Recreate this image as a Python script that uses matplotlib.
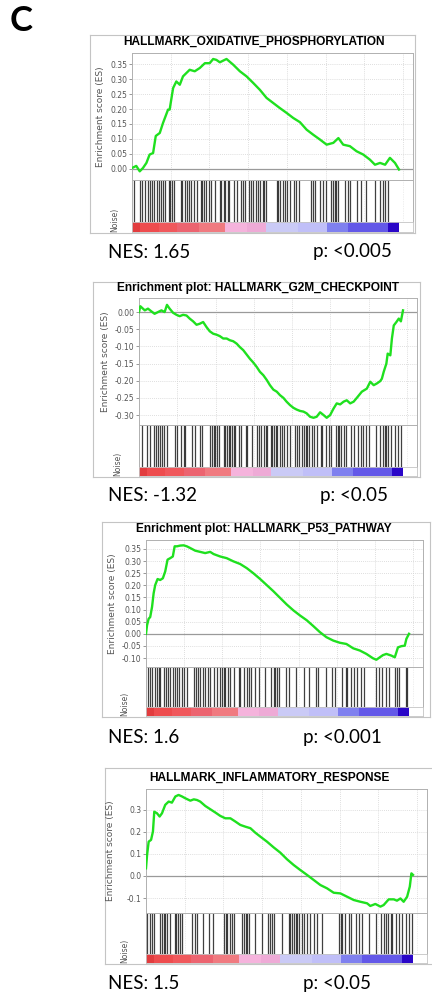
import numpy as np
import matplotlib
matplotlib.use("Agg")
import matplotlib.pyplot as plt

# running enrichment score, x = position in ranked gene list (%)
oxphos_x = [0, 1.6, 2.9, 4.1, 5.4, 6.6, 7.9, 8.9, 10.4, 11.6,
            13.5, 14.1, 15.4, 16.6, 17.9, 19.1, 21.6, 23.5, 25.4, 27.3,
            29.1, 30.4, 31.6, 32.9, 35.4, 37.9, 40.4, 42.9, 45.4, 47.9,
            50.4, 52.9, 55.4, 57.9, 60.4, 62.9, 65.4, 67.9, 70.4, 72.9,
            75.4, 77.3, 79.1, 81.6, 84.1, 86.6, 89.1, 91.0, 92.9, 94.8,
            96.6, 98.5, 100]
oxphos_es = [0.003, 0.01, -0.008, 0.003, 0.02, 0.048, 0.053, 0.11, 0.12, 0.153,
             0.198, 0.198, 0.27, 0.292, 0.281, 0.309, 0.331, 0.326, 0.337, 0.353,
             0.353, 0.367, 0.364, 0.356, 0.367, 0.348, 0.326, 0.309, 0.287, 0.264,
             0.237, 0.22, 0.203, 0.187, 0.17, 0.156, 0.131, 0.114, 0.098, 0.081,
             0.087, 0.103, 0.081, 0.076, 0.059, 0.048, 0.031, 0.014, 0.02, 0.014,
             0.037, 0.02, -0.002]
oxphos_hits = [0.9, 3.1, 3.8, 5.0, 5.9, 6.6, 7.5, 8.2, 9.2, 10.0,
               10.7, 11.7, 12.5, 13.8, 14.4, 15.1, 15.9, 18.2, 18.8, 19.7,
               20.7, 21.3, 22.2, 23.2, 24.5, 25.7, 26.3, 27.0, 27.9, 28.9,
               29.7, 31.0, 33.0, 33.5, 34.3, 34.9, 35.8, 36.4, 38.3, 39.5,
               40.8, 41.4, 42.3, 43.9, 44.5, 45.2, 46.4, 47.1, 48.1, 48.9,
               49.6, 50.2, 54.2, 54.8, 55.6, 56.5, 57.3, 58.1, 59.0, 60.6,
               61.5, 62.4, 67.1, 67.8, 68.6, 70.3, 71.5, 72.8, 74.7, 75.3,
               75.9, 76.5, 77.2, 79.7, 80.9, 81.6, 84.1, 85.9, 87.8, 91.0,
               92.8, 94.1, 94.7, 96.0]

g2m_x = [0, 0.5, 2.2, 3.4, 4.7, 5.9, 7.2, 8.5, 9.7, 10.6,
         11.6, 12.9, 14.2, 15.4, 16.7, 18.0, 19.2, 20.5, 21.8, 23.0,
         24.3, 25.6, 26.8, 28.1, 29.4, 30.6, 31.9, 33.2, 34.4, 35.7,
         37.0, 38.2, 39.5, 40.8, 42.0, 43.3, 44.6, 45.8, 47.1, 48.4,
         49.6, 50.9, 52.2, 53.4, 54.7, 55.9, 57.2, 58.5, 59.7, 61.0,
         62.3, 63.5, 64.8, 66.1, 67.3, 68.6, 69.9, 71.1, 72.4, 73.7,
         74.9, 76.2, 77.5, 78.7, 80.0, 81.3, 82.5, 84.4, 86.3, 87.6,
         88.9, 90.1, 91.4, 92.0, 92.7, 93.7, 94.2, 95.2, 95.8, 96.5,
         97.5, 98.4, 99.2, 100]
g2m_es = [0.0, 0.017, 0.005, 0.010, 0.002, -0.005, 0.0, 0.005, 0.0, 0.021,
          0.010, -0.002, -0.008, -0.012, -0.008, -0.010, -0.019, -0.027, -0.037, -0.034,
          -0.029, -0.044, -0.056, -0.063, -0.066, -0.070, -0.077, -0.077, -0.082, -0.085,
          -0.092, -0.102, -0.111, -0.124, -0.136, -0.147, -0.160, -0.174, -0.184, -0.198,
          -0.213, -0.226, -0.232, -0.242, -0.250, -0.261, -0.271, -0.279, -0.284, -0.288,
          -0.290, -0.295, -0.305, -0.308, -0.305, -0.292, -0.300, -0.308, -0.300, -0.281,
          -0.266, -0.269, -0.261, -0.257, -0.266, -0.261, -0.250, -0.232, -0.223, -0.203,
          -0.213, -0.208, -0.201, -0.194, -0.174, -0.150, -0.121, -0.126, -0.077, -0.039,
          -0.029, -0.019, -0.027, 0.005]
g2m_hits = [1.3, 2.9, 4.2, 5.5, 6.3, 7.1, 8.0, 8.6, 9.6, 10.5,
            13.5, 14.3, 16.0, 16.9, 17.5, 20.1, 21.1, 23.2, 23.9, 27.0,
            27.7, 28.3, 28.9, 29.6, 30.2, 32.1, 32.7, 33.4, 34.0, 34.6,
            35.3, 35.9, 36.5, 37.8, 38.8, 40.4, 41.0, 42.9, 44.8, 45.4,
            46.1, 47.3, 48.0, 48.6, 49.9, 50.5, 51.1, 51.8, 52.4, 53.3,
            54.3, 54.9, 56.2, 57.1, 59.1, 60.0, 60.7, 61.9, 62.6, 63.2,
            63.8, 64.5, 65.7, 66.4, 67.6, 68.9, 69.5, 70.8, 71.8, 72.7,
            74.6, 75.3, 75.9, 76.5, 77.8, 78.4, 80.3, 81.6, 82.9, 84.1,
            84.8, 86.0, 87.3, 89.8, 91.1, 92.4, 93.0, 93.7, 94.3, 95.6,
            96.8, 98.1, 99.4]

p53_x = [0, 0.4, 1.0, 1.6, 2.3, 2.9, 3.5, 4.4, 5.4, 6.4,
         7.3, 8.2, 9.2, 10.2, 10.9, 11.8, 13.0, 14.3, 15.5, 16.8,
         18.7, 20.6, 22.5, 24.4, 25.7, 28.2, 30.7, 33.2, 35.8, 38.3,
         40.8, 43.4, 45.9, 48.4, 50.9, 53.5, 56.0, 58.5, 61.1, 63.6,
         66.1, 68.6, 71.2, 73.7, 76.2, 78.8, 81.3, 83.8, 86.3, 87.6,
         88.9, 90.1, 91.4, 93.3, 94.6, 95.8, 97.1, 98.4, 99.0, 100]
p53_es = [0.0, 0.035, 0.062, 0.069, 0.111, 0.167, 0.201, 0.226, 0.222, 0.229,
          0.257, 0.306, 0.312, 0.319, 0.361, 0.361, 0.364, 0.365, 0.361, 0.354,
          0.343, 0.338, 0.333, 0.338, 0.329, 0.319, 0.312, 0.299, 0.288, 0.271,
          0.25, 0.226, 0.201, 0.176, 0.149, 0.121, 0.097, 0.076, 0.056, 0.032,
          0.007, -0.014, -0.028, -0.037, -0.042, -0.060, -0.069, -0.083, -0.101, -0.107,
          -0.097, -0.088, -0.083, -0.090, -0.097, -0.056, -0.051, -0.049, -0.021, 0.0]
p53_hits = [0.8, 1.6, 2.3, 3.3, 4.2, 4.8, 5.5, 6.7, 7.6, 8.4,
            9.3, 10.2, 10.9, 11.8, 12.7, 13.5, 14.3, 15.6, 18.1, 19.0,
            19.8, 20.7, 21.6, 22.6, 23.6, 24.5, 25.8, 27.0, 28.3, 28.9,
            29.6, 30.2, 31.2, 32.1, 33.4, 35.3, 35.9, 37.2, 38.5, 39.1,
            40.1, 41.6, 42.9, 45.2, 47.7, 48.6, 49.2, 49.9, 50.5, 53.3,
            54.3, 57.1, 60.0, 61.9, 64.5, 65.5, 68.3, 70.8, 71.8, 74.6,
            75.9, 76.5, 77.8, 79.1, 80.3, 81.6, 82.9, 87.3, 88.6, 89.8,
            91.1, 92.4, 94.7, 95.6, 96.2, 98.7, 99.4]

inflam_x = [0, 0.4, 1.0, 1.9, 2.6, 3.1, 4.1, 5.1, 6.0, 7.2,
            8.5, 9.7, 11.0, 12.2, 13.5, 14.7, 16.6, 17.9, 19.1, 20.3,
            22.2, 24.1, 26.0, 27.8, 29.7, 31.6, 33.5, 35.3, 37.2, 39.1,
            40.9, 42.8, 45.3, 47.8, 50.3, 52.8, 55.3, 57.8, 60.3, 62.8,
            65.3, 67.8, 70.3, 72.8, 75.3, 77.8, 80.3, 82.8, 84.0, 85.9,
            87.8, 89.0, 90.9, 92.8, 94.0, 95.3, 96.5, 97.8, 98.8, 99.4,
            100]
inflam_es = [0.035, 0.095, 0.156, 0.164, 0.202, 0.292, 0.285, 0.270, 0.285, 0.323,
             0.338, 0.333, 0.361, 0.368, 0.361, 0.353, 0.342, 0.348, 0.345, 0.338,
             0.318, 0.303, 0.288, 0.273, 0.262, 0.262, 0.247, 0.232, 0.224, 0.217,
             0.197, 0.179, 0.156, 0.130, 0.106, 0.076, 0.05, 0.027, 0.005, -0.018,
             -0.041, -0.056, -0.076, -0.079, -0.094, -0.109, -0.117, -0.124, -0.136, -0.127,
             -0.139, -0.132, -0.106, -0.106, -0.112, -0.102, -0.117, -0.094, -0.048, 0.012,
             0.005]
inflam_hits = [0.4, 1.6, 2.3, 2.9, 5.4, 6.0, 6.6, 7.3, 7.9, 9.1,
               10.8, 11.3, 12.0, 12.9, 13.5, 17.3, 18.3, 19.1, 21.3, 23.5,
               25.0, 29.1, 29.8, 30.4, 31.3, 32.3, 32.9, 36.0, 36.6, 37.3,
               37.9, 38.5, 41.0, 43.5, 45.8, 46.6, 47.3, 47.9, 51.0, 53.5,
               54.1, 54.8, 55.4, 56.0, 56.6, 57.3, 58.3, 59.1, 60.4, 61.6,
               62.9, 64.1, 66.0, 72.3, 72.9, 73.5, 74.5, 76.0, 76.6, 78.5,
               79.8, 81.0, 83.5, 86.0, 87.9, 89.1, 89.8, 90.8, 91.6, 92.3,
               93.5, 94.8, 96.0, 97.3, 98.5, 99.5]

titles = ["HALLMARK_OXIDATIVE_PHOSPHORYLATION",
          "Enrichment plot: HALLMARK_G2M_CHECKPOINT",
          "Enrichment plot: HALLMARK_P53_PATHWAY",
          "HALLMARK_INFLAMMATORY_RESPONSE"]
nes_labels = ["NES: 1.65", "NES: -1.32", "NES: 1.6", "NES: 1.5"]
p_labels = ["p: <0.005", "p: <0.05", "p: <0.001", "p: <0.05"]

# ranked list metric strip: zone edges (%) and colours, red = top of list
strip_edges = [0, 3, 10, 17, 25, 35, 43, 50, 62, 73, 81, 96, 100]
strip_col = ["#e23c3e", "#ee4c4e", "#f0585c", "#ec6470", "#f07a80", "#f5b3dc",
             "#eeaad6", "#cacaf6", "#c0bff8", "#7f80ef", "#6358e8", "#2a06c8"]

W, H = 432, 997
XMAX = 105.3
GRID_STEP = 14.5

# layout in pixels from top-left
layout = [
    dict(frame=(90, 35, 415, 233), left=132, dw=267, es_top=53, hit_top=180, cb_top=222, cb_bot=232,
         ylim=(-0.037, 0.387), yticks=np.arange(0, 0.36, 0.05), fmt="%.2f",
         title_xy=(254, 42), text_y=252, p_x=313, ylab_pad=4, noise_x=115),
    dict(frame=(93, 282, 420, 477), left=139, dw=264, es_top=298, hit_top=425, cb_top=467, cb_bot=476,
         ylim=(-0.329, 0.041), yticks=np.arange(-0.30, 0.01, 0.05), fmt="%.2f",
         title_xy=(258, 288), text_y=495, p_x=320, ylab_pad=3, noise_x=118),
    dict(frame=(102, 522, 430, 717), left=146, dw=263, es_top=540, hit_top=667, cb_top=707, cb_bot=716,
         ylim=(-0.137, 0.387), yticks=np.arange(-0.10, 0.36, 0.05), fmt="%.2f",
         title_xy=(264, 529), text_y=737, p_x=303, ylab_pad=3, noise_x=125),
    dict(frame=(105, 768, 436, 964), left=146, dw=267, es_top=789, hit_top=913, cb_top=954, cb_bot=963,
         ylim=(-0.168, 0.395), yticks=np.arange(-0.1, 0.31, 0.1), fmt="%.1f",
         title_xy=(269, 778), text_y=983, p_x=303, ylab_pad=8, noise_x=125),
]

curves = [(oxphos_x, oxphos_es, oxphos_hits), (g2m_x, g2m_es, g2m_hits),
          (p53_x, p53_es, p53_hits), (inflam_x, inflam_es, inflam_hits)]


def box(l, t, r, b):
    return [l / W, 1 - b / H, (r - l) / W, (b - t) / H]


fig = plt.figure(figsize=(W / 100, H / 100), dpi=100)
fig.patch.set_facecolor("white")

fig.text(10 / W, 1 - 37 / H, "C", fontsize=25, fontweight="bold", family="Lato", va="bottom")

for i, lay in enumerate(layout):
    xs, es, hits = curves[i]
    fl, ft, fr, fb = lay["frame"]
    right = lay["left"] + lay["dw"] * XMAX / 100

    frame = fig.add_axes(box(fl, ft, fr, fb), zorder=0)
    frame.set_facecolor("white")
    frame.set_xticks([])
    frame.set_yticks([])
    for sp in frame.spines.values():
        sp.set_color("#c4c4c4")
        sp.set_linewidth(0.8)
    # tail of the ranked-list-metric axis label, the rest of that panel is cropped
    fig.text(lay["noise_x"] / W, 1 - (fb - 1) / H, "Noise)", rotation=90, ha="center", va="bottom",
             fontsize=5.5, color="#555555")

    # running enrichment score
    ax = fig.add_axes(box(lay["left"], lay["es_top"], right, lay["hit_top"]), zorder=2)
    ax.set_facecolor("white")
    ax.plot(xs, es, color="#1fe01f", lw=1.7, zorder=3)
    ax.axhline(0, color="#9a9a9a", lw=0.9, zorder=2)
    ax.set_xlim(0, XMAX)
    ax.set_ylim(*lay["ylim"])
    ax.set_xticks(np.arange(GRID_STEP, XMAX, GRID_STEP))
    ax.set_xticklabels([])
    ax.tick_params(axis="x", length=0)
    ax.set_yticks(lay["yticks"])
    ax.set_yticklabels([lay["fmt"] % (0 if abs(v) < 1e-9 else v) for v in lay["yticks"]])
    ax.tick_params(axis="y", labelsize=5.5, labelcolor="#555555", color="#888888", length=2, width=0.6, pad=1.5)
    ax.grid(True, color="#d4d4d4", lw=0.6, ls=(0, (1, 1.5)))
    for sp in ax.spines.values():
        sp.set_color("#b0b0b0")
        sp.set_linewidth(0.7)
    ax.set_ylabel("Enrichment score (ES)", fontsize=6.5, color="#555555", labelpad=lay["ylab_pad"])

    # gene set members along the ranked list
    hx = fig.add_axes(box(lay["left"], lay["hit_top"], right, lay["cb_top"]), zorder=2)
    hx.set_facecolor("white")
    hx.vlines(hits, 0, 1, color="black", lw=0.9, alpha=0.75)
    hx.set_xlim(0, XMAX)
    hx.set_ylim(0, 1)
    hx.set_xticks(np.arange(GRID_STEP, XMAX, GRID_STEP))
    hx.grid(True, axis="x", color="#e0e0e0", lw=0.5, ls=(0, (1, 1.5)))
    hx.set_xticklabels([])
    hx.set_yticks([])
    hx.tick_params(length=0)
    for sp in hx.spines.values():
        sp.set_color("#b0b0b0")
        sp.set_linewidth(0.7)

    cb = fig.add_axes(box(lay["left"], lay["cb_top"], right, lay["cb_bot"]), zorder=2)
    cb.set_facecolor("white")
    for k, c in enumerate(strip_col):
        cb.axvspan(strip_edges[k], strip_edges[k + 1], color=c, lw=0)
    cb.set_xlim(0, XMAX)
    cb.set_ylim(0, 1)
    cb.set_xticks([])
    cb.set_yticks([])
    for sp in cb.spines.values():
        sp.set_color("#c4c4c4")
        sp.set_linewidth(0.6)

    tx, ty = lay["title_xy"]
    fig.text(tx / W, 1 - ty / H, titles[i], ha="center", va="center", fontsize=8.6,
             fontweight="bold", family="Liberation Sans")

    fig.text(108 / W, 1 - lay["text_y"] / H, nes_labels[i], ha="left", va="center",
             fontsize=13.5, family="Lato")
    fig.text(lay["p_x"] / W, 1 - lay["text_y"] / H, p_labels[i], ha="left", va="center",
             fontsize=13.5, family="Lato")

fig.savefig("out.png", dpi=100, facecolor="white")
